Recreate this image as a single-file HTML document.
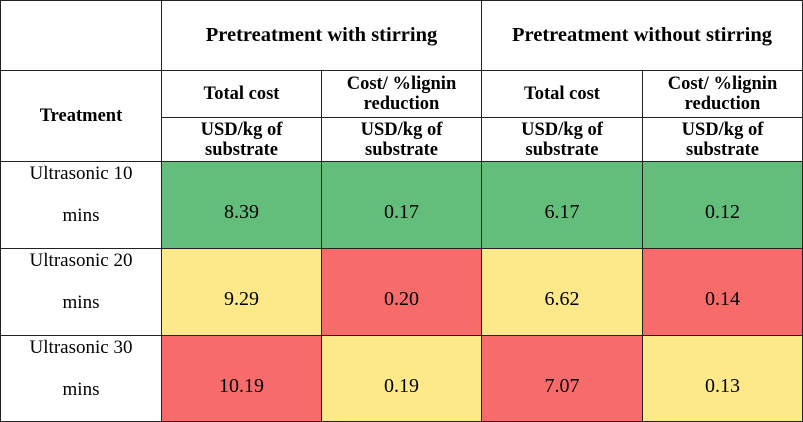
<!DOCTYPE html>
<html><head><meta charset="utf-8"><style>
body{margin:0;width:803px;height:421px;background:#fff;overflow:hidden;font-family:"Liberation Serif",serif;color:#000}
.c{position:absolute;box-sizing:border-box;border:1px solid #222;display:flex;align-items:center;justify-content:center;text-align:center;margin:0 -1px -1px 0}
.h{font-weight:bold;font-size:20.5px}
.s{font-weight:bold;font-size:18.5px;line-height:20px}
.v{font-size:20px;padding-top:15px}
.l{font-size:19px;display:block;text-align:center}
.l span{position:absolute;left:0;width:100%;line-height:22px}
.l .a{top:1px}.l .b{top:43px}
.g{background:#63BE7B}.y{background:#FEE98A}.r{background:#F86B6B}
</style></head><body>
<div>
<div class="c" style="left:0;top:0;width:162px;height:71px"></div>
<div class="c h" style="left:161px;top:0;width:321px;height:71px">Pretreatment with stirring</div>
<div class="c h" style="left:481px;top:0;width:322px;height:71px">Pretreatment without stirring</div>
<div class="c s" style="left:0;top:70px;width:162px;height:92px">Treatment</div>
<div class="c s" style="left:161px;top:70px;width:161px;height:48px">Total cost</div>
<div class="c s" style="left:321px;top:70px;width:161px;height:48px">Cost/ %lignin<br>reduction</div>
<div class="c s" style="left:481px;top:70px;width:162px;height:48px">Total cost</div>
<div class="c s" style="left:642px;top:70px;width:161px;height:48px">Cost/ %lignin<br>reduction</div>
<div class="c s" style="left:161px;top:117px;width:161px;height:45px">USD/kg of<br>substrate</div>
<div class="c s" style="left:321px;top:117px;width:161px;height:45px">USD/kg of<br>substrate</div>
<div class="c s" style="left:481px;top:117px;width:162px;height:45px">USD/kg of<br>substrate</div>
<div class="c s" style="left:642px;top:117px;width:161px;height:45px">USD/kg of<br>substrate</div>

<div class="c l" style="left:0;top:161px;width:162px;height:88px"><span class="a">Ultrasonic 10</span><span class="b">mins</span></div>
<div class="c v g" style="left:161px;top:161px;width:161px;height:88px">8.39</div>
<div class="c v g" style="left:321px;top:161px;width:161px;height:88px">0.17</div>
<div class="c v g" style="left:481px;top:161px;width:162px;height:88px">6.17</div>
<div class="c v g" style="left:642px;top:161px;width:161px;height:88px">0.12</div>

<div class="c l" style="left:0;top:248px;width:162px;height:88px"><span class="a">Ultrasonic 20</span><span class="b">mins</span></div>
<div class="c v y" style="left:161px;top:248px;width:161px;height:88px">9.29</div>
<div class="c v r" style="left:321px;top:248px;width:161px;height:88px">0.20</div>
<div class="c v y" style="left:481px;top:248px;width:162px;height:88px">6.62</div>
<div class="c v r" style="left:642px;top:248px;width:161px;height:88px">0.14</div>

<div class="c l" style="left:0;top:335px;width:162px;height:87px"><span class="a">Ultrasonic 30</span><span class="b">mins</span></div>
<div class="c v r" style="left:161px;top:335px;width:161px;height:87px">10.19</div>
<div class="c v y" style="left:321px;top:335px;width:161px;height:87px">0.19</div>
<div class="c v r" style="left:481px;top:335px;width:162px;height:87px">7.07</div>
<div class="c v y" style="left:642px;top:335px;width:161px;height:87px">0.13</div>
</div>
</body></html>
